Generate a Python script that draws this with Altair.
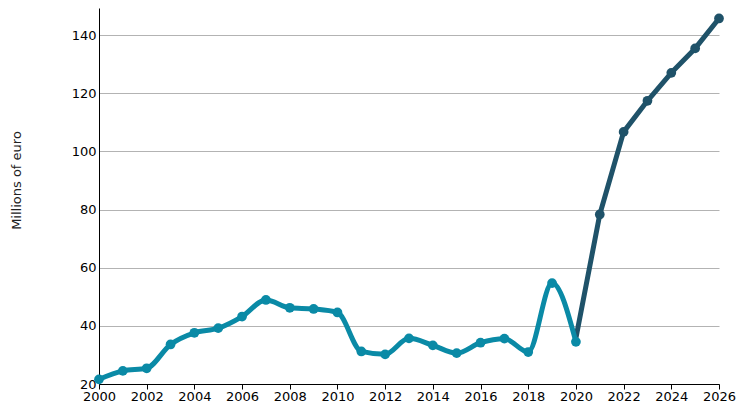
import altair as alt
import pandas as pd

hist_years = list(range(2000, 2021))
hist_values = [21.6, 24.5, 25.4, 33.6, 37.6, 39.2, 43.2, 48.9, 46.2, 45.8, 44.6,
               31.2, 30.2, 35.7, 33.3, 30.6, 34.2, 35.6, 31.0, 54.7, 34.5]
fc_years = list(range(2020, 2027))
fc_values = [35.8, 78.3, 106.7, 117.4, 127.0, 135.4, 145.7]

hist = pd.DataFrame({"year": hist_years, "value": hist_values})
fc = pd.DataFrame({"year": fc_years, "value": fc_values})

TEAL = "#0a8aa6"
DARK = "#1f5269"

x = alt.X("year:Q", scale=alt.Scale(domain=[2000, 2026], nice=False, zero=False),
          axis=alt.Axis(values=list(range(2000, 2027, 2)), format="d", title=None,
                        grid=False, tickSize=5, tickColor="black", domainColor="black",
                        labelFontSize=13, labelColor="black", labelPadding=1,
                        labelFlush=False))
y = alt.Y("value:Q", scale=alt.Scale(domain=[20, 149.3], nice=False, zero=False),
          axis=alt.Axis(values=[20, 40, 60, 80, 100, 120, 140], title="Millions of euro",
                        grid=True, gridColor="#b3b3b3", tickSize=0, domainColor="black",
                        labelFontSize=13, labelColor="black", labelPadding=3,
                        titleFontSize=13, titleFontWeight="normal", titleColor="#222222",
                        titleX=-83, titleY=172, titleAngle=-90, titleBaseline="middle",
                        titleAlign="center"))

fc_line = alt.Chart(fc).mark_line(color=DARK, strokeWidth=5, interpolate="linear",
                                  strokeJoin="round", strokeCap="round").encode(x=x, y=y)
fc_pts = alt.Chart(fc[fc.year > 2020]).mark_point(color=DARK, filled=True, opacity=1, size=95).encode(x=x, y=y)
h_line = alt.Chart(hist).mark_line(color=TEAL, strokeWidth=5, interpolate="monotone").encode(x=x, y=y)
h_pts = alt.Chart(hist).mark_point(color=TEAL, filled=True, opacity=1, size=95).encode(x=x, y=y)

chart = alt.layer(fc_line, fc_pts, h_line, h_pts).properties(
    width=620, height=376,
    autosize=alt.AutoSizeParams(type="none"),
    padding={"left": 91, "top": 0, "right": 20, "bottom": 30},
).configure_view(stroke=None).configure_axis(labelFont="DejaVu Sans", titleFont="DejaVu Sans")

chart.save("out.html", embed_options={"renderer": "svg", "actions": False})
